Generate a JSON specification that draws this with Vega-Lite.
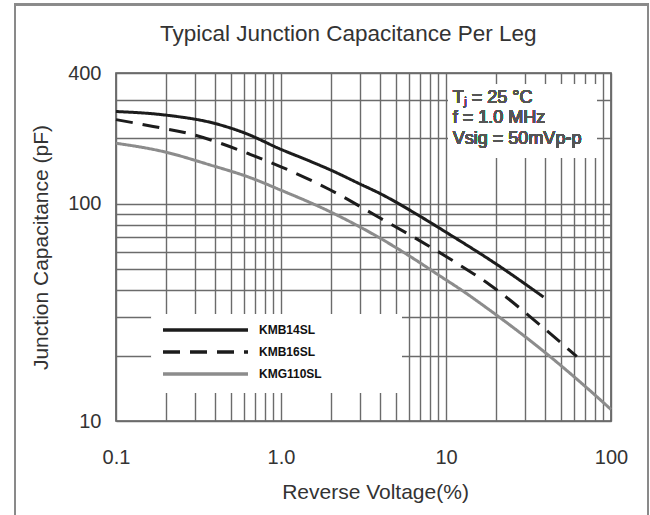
{
  "$schema": "https://vega.github.io/schema/vega-lite/v6.json",
  "width": 495,
  "height": 348,
  "autosize": {"type": "none"},
  "padding": {"left": 116, "top": 73, "right": 39, "bottom": 94},
  "background": "white",
  "title": {
    "text": "Typical Junction Capacitance Per Leg",
    "font": "Liberation Sans",
    "fontSize": 22.5,
    "fontWeight": "normal",
    "color": "#333333",
    "anchor": "start",
    "frame": "group",
    "dx": 44,
    "offset": -42
  },
  "config": {
    "view": {"stroke": "#555555", "strokeWidth": 1.6},
    "axis": {
      "grid": true,
      "gridColor": "#6b6b6b",
      "gridWidth": 1.4,
      "gridOpacity": 1,
      "ticks": false,
      "domain": false,
      "labelFont": "Liberation Sans",
      "labelFontSize": 20,
      "labelColor": "#333333",
      "titleFont": "Liberation Sans",
      "titleFontSize": 21,
      "titleFontWeight": "normal",
      "titleColor": "#333333",
      "labelFlush": false,
      "labelOverlap": false
    }
  },
  "data": {
    "values": [
      {"series": "KMB14SL", "v": 0.1, "c": 266},
      {"series": "KMB14SL", "v": 0.2, "c": 256},
      {"series": "KMB14SL", "v": 0.4, "c": 234},
      {"series": "KMB14SL", "v": 0.6, "c": 212},
      {"series": "KMB14SL", "v": 1.0, "c": 178},
      {"series": "KMB14SL", "v": 1.5, "c": 157},
      {"series": "KMB14SL", "v": 2.0, "c": 143},
      {"series": "KMB14SL", "v": 3.0, "c": 123.5},
      {"series": "KMB14SL", "v": 4.0, "c": 111.3},
      {"series": "KMB14SL", "v": 7.0, "c": 87.4},
      {"series": "KMB14SL", "v": 10, "c": 74},
      {"series": "KMB14SL", "v": 20, "c": 53},
      {"series": "KMB14SL", "v": 39, "c": 37.2},
      {"series": "KMB16SL", "v": 0.1, "c": 244},
      {"series": "KMB16SL", "v": 0.168, "c": 227},
      {"series": "KMB16SL", "v": 0.294, "c": 208},
      {"series": "KMB16SL", "v": 0.447, "c": 188},
      {"series": "KMB16SL", "v": 0.649, "c": 169},
      {"series": "KMB16SL", "v": 1.0, "c": 148},
      {"series": "KMB16SL", "v": 1.98, "c": 116},
      {"series": "KMB16SL", "v": 3.98, "c": 86},
      {"series": "KMB16SL", "v": 6.96, "c": 67.5},
      {"series": "KMB16SL", "v": 11.3, "c": 54},
      {"series": "KMB16SL", "v": 18.5, "c": 42.3},
      {"series": "KMB16SL", "v": 37.1, "c": 27.7},
      {"series": "KMB16SL", "v": 62, "c": 19.8},
      {"series": "KMG110SL", "v": 0.1, "c": 190},
      {"series": "KMG110SL", "v": 0.193, "c": 174},
      {"series": "KMG110SL", "v": 0.371, "c": 151},
      {"series": "KMG110SL", "v": 0.649, "c": 132},
      {"series": "KMG110SL", "v": 0.986, "c": 116},
      {"series": "KMG110SL", "v": 1.98, "c": 92},
      {"series": "KMG110SL", "v": 3.98, "c": 69.5},
      {"series": "KMG110SL", "v": 6.96, "c": 53.5},
      {"series": "KMG110SL", "v": 9.2, "c": 46.5},
      {"series": "KMG110SL", "v": 12.16, "c": 40.5},
      {"series": "KMG110SL", "v": 18.5, "c": 32.3},
      {"series": "KMG110SL", "v": 37.1, "c": 21.6},
      {"series": "KMG110SL", "v": 74.6, "c": 13.8},
      {"series": "KMG110SL", "v": 100, "c": 11.3}
    ]
  },
  "layer": [
    {
      "mark": {"type": "rect", "fill": null, "filled": false, "stroke": "#8a8a8a", "strokeWidth": 1.5, "clip": false},
      "encoding": {
        "x": {"datum": 0.0244, "scale": {"type": "log", "domain": [0.1, 100]}},
        "x2": {"datum": 167.5},
        "y": {"datum": 826, "scale": {"type": "log", "domain": [10, 400]}},
        "y2": {"datum": 3.0}
      }
    },
    {
      "mark": {"type": "rect", "fill": "white", "strokeWidth": 0},
      "encoding": {
        "x": {"datum": 10.3, "scale": {"type": "log", "domain": [0.1, 100]}},
        "x2": {"datum": 82},
        "y": {"datum": 353, "scale": {"type": "log", "domain": [10, 400]}},
        "y2": {"datum": 163}
      }
    },
    {
      "mark": {"type": "rect", "fill": "white", "strokeWidth": 0},
      "encoding": {
        "x": {"datum": 0.165, "scale": {"type": "log", "domain": [0.1, 100]}},
        "x2": {"datum": 5.4},
        "y": {"datum": 31, "scale": {"type": "log", "domain": [10, 400]}},
        "y2": {"datum": 13.45}
      }
    },
    {
      "mark": {"type": "line", "interpolate": "monotone", "strokeWidth": 3},
      "encoding": {
        "x": {
          "field": "v",
          "type": "quantitative",
          "scale": {"type": "log", "domain": [0.1, 100]},
          "axis": {
            "values": [0.1, 0.2, 0.3, 0.4, 0.5, 0.6, 0.7, 0.8, 0.9, 1, 2, 3, 4, 5, 6, 7, 8, 9, 10, 20, 30, 40, 50, 60, 70, 80, 90, 100],
            "labelExpr": "datum.value == 0.1 ? '0.1' : datum.value == 1 ? '1.0' : datum.value == 10 ? '10' : datum.value == 100 ? '100' : ''",
            "labelPadding": 26,
            "title": "Reverse Voltage(%)",
            "titlePadding": 14,
            "titleX": 259,
            "titleAnchor": "middle"
          }
        },
        "y": {
          "field": "c",
          "type": "quantitative",
          "scale": {"type": "log", "domain": [10, 400]},
          "axis": {
            "values": [10, 20, 30, 40, 50, 60, 70, 80, 90, 100, 200, 300, 400],
            "labelExpr": "datum.value == 10 ? '10' : datum.value == 100 ? '100' : datum.value == 400 ? '400' : ''",
            "labelPadding": 15,
            "title": "Junction Capacitance (pF)",
            "titlePadding": 16
          }
        },
        "color": {
          "field": "series",
          "type": "nominal",
          "scale": {"domain": ["KMB14SL", "KMB16SL", "KMG110SL"], "range": ["#1c1c1c", "#1c1c1c", "#8c8c8c"]},
          "legend": {
            "orient": "none", "legendX": 45, "legendY": 246, "title": null, "direction": "vertical",
            "symbolType": "stroke", "symbolSize": 7225, "symbolStrokeWidth": 3.5, "clipHeight": 22,
            "labelFont": "Liberation Sans", "labelFontWeight": "bold", "labelFontSize": 12, "labelColor": "#111111",
            "labelOffset": 9, "padding": 0, "rowPadding": 0
          }
        },
        "strokeDash": {
          "field": "series",
          "type": "nominal",
          "scale": {"domain": ["KMB14SL", "KMB16SL", "KMG110SL"], "range": [[1, 0], [17, 10], [1, 0]]},
          "legend": {
            "orient": "none", "legendX": 45, "legendY": 246, "title": null, "direction": "vertical",
            "symbolType": "stroke", "symbolSize": 7225, "symbolStrokeWidth": 3.5, "clipHeight": 22,
            "labelFont": "Liberation Sans", "labelFontWeight": "bold", "labelFontSize": 12, "labelColor": "#111111",
            "labelOffset": 9, "padding": 0, "rowPadding": 0
          }
        }
      }
    },
    {
      "mark": {"type": "text", "align": "left", "baseline": "top", "font": "Liberation Sans", "fontSize": 18, "fontWeight": 400, "color": "#555555", "lineHeight": 20.5},
      "encoding": {
        "x": {"datum": 11.0, "scale": {"type": "log", "domain": [0.1, 100]}},
        "y": {"datum": 339, "scale": {"type": "log", "domain": [10, 400]}},
        "text": {"value": ["Tⱼ = 25 °C", "f = 1.0 MHz", "Vsig = 50mVp-p"]}
      }
    }
  ]
}
